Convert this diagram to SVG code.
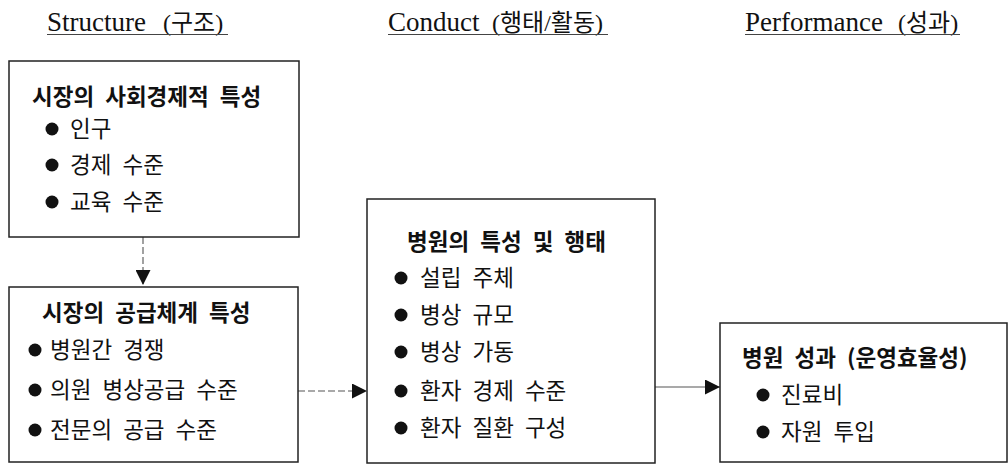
<svg xmlns="http://www.w3.org/2000/svg" width="1008" height="465" viewBox="0 0 1008 465">
<style>
.hdr{font-family:"Liberation Serif","Noto Sans CJK KR",serif;font-size:27px;fill:#111}
.hk{font-family:"Liberation Serif","Noto Sans CJK KR",serif;font-size:24px}
.ul{stroke:#444;stroke-width:1.2}
.box{fill:#fff;stroke:#222;stroke-width:1.5}
.ttl{font-family:"Noto Sans CJK KR",sans-serif;font-size:22.5px;font-weight:bold;fill:#111;word-spacing:6px}
.itm{font-family:"Noto Sans CJK KR",sans-serif;font-size:22.5px;fill:#111;word-spacing:6px}
.bul{fill:#111}
.con{stroke:#555;stroke-width:1.1;fill:none}
.dash{stroke-dasharray:7 3}
</style>
<defs>
<marker id="ah" viewBox="0 0 10 10" refX="10" refY="5" markerWidth="15" markerHeight="15" markerUnits="userSpaceOnUse" orient="auto">
<path d="M0,0 L10,5 L0,10 Z" fill="#111"/>
</marker>
</defs>

<g id="headers">
<text class="hdr" x="47" y="31">Structure <tspan class="hk" x="163">(구조)</tspan></text>
<line class="ul" x1="47" y1="34.5" x2="228" y2="34.5"/>
<text class="hdr" x="388" y="31">Conduct <tspan class="hk" x="492">(행태/활동)</tspan></text>
<line class="ul" x1="388" y1="34.5" x2="608" y2="34.5"/>
<text class="hdr" x="745" y="31">Performance <tspan class="hk" x="898">(성과)</tspan></text>
<line class="ul" x1="745" y1="34.5" x2="960" y2="34.5"/>
</g>

<g id="connectors">
<line class="con dash" x1="143" y1="237" x2="143" y2="285" marker-end="url(#ah)"/>
<line class="con dash" x1="298" y1="391" x2="367" y2="391" marker-end="url(#ah)"/>
<line class="con" x1="655" y1="387" x2="720" y2="387" marker-end="url(#ah)"/>
</g>

<g id="node-socioeconomic">
<rect class="box" x="9" y="61" width="290" height="176"/>
<text class="ttl" x="32" y="105">시장의 사회경제적 특성</text>
<circle class="bul" cx="52" cy="129" r="6.5"/>
<text class="itm" x="70" y="137">인구</text>
<circle class="bul" cx="52" cy="165" r="6.5"/>
<text class="itm" x="70" y="173">경제 수준</text>
<circle class="bul" cx="52" cy="202" r="6.5"/>
<text class="itm" x="70" y="210">교육 수준</text>
</g>

<g id="node-supply">
<rect class="box" x="9" y="287" width="289" height="175"/>
<text class="ttl" x="42" y="321">시장의 공급체계 특성</text>
<circle class="bul" cx="35" cy="350" r="6.5"/>
<text class="itm" x="50" y="358">병원간 경쟁</text>
<circle class="bul" cx="35" cy="390" r="6.5"/>
<text class="itm" x="50" y="398">의원 병상공급 수준</text>
<circle class="bul" cx="35" cy="430" r="6.5"/>
<text class="itm" x="50" y="438">전문의 공급 수준</text>
</g>

<g id="node-hospital">
<rect class="box" x="367" y="199" width="288" height="264"/>
<text class="ttl" x="407" y="250">병원의 특성 및 행태</text>
<circle class="bul" cx="401" cy="278" r="6.5"/>
<text class="itm" x="420" y="286">설립 주체</text>
<circle class="bul" cx="401" cy="315" r="6.5"/>
<text class="itm" x="420" y="323">병상 규모</text>
<circle class="bul" cx="401" cy="352" r="6.5"/>
<text class="itm" x="420" y="360">병상 가동</text>
<circle class="bul" cx="401" cy="391" r="6.5"/>
<text class="itm" x="420" y="399">환자 경제 수준</text>
<circle class="bul" cx="401" cy="428" r="6.5"/>
<text class="itm" x="420" y="436">환자 질환 구성</text>
</g>

<g id="node-performance">
<rect class="box" x="720" y="323" width="287" height="139"/>
<text class="ttl" x="742" y="366">병원 성과 (운영효율성)</text>
<circle class="bul" cx="763" cy="395" r="6.5"/>
<text class="itm" x="781" y="403">진료비</text>
<circle class="bul" cx="763" cy="432" r="6.5"/>
<text class="itm" x="781" y="440">자원 투입</text>
</g>
</svg>
